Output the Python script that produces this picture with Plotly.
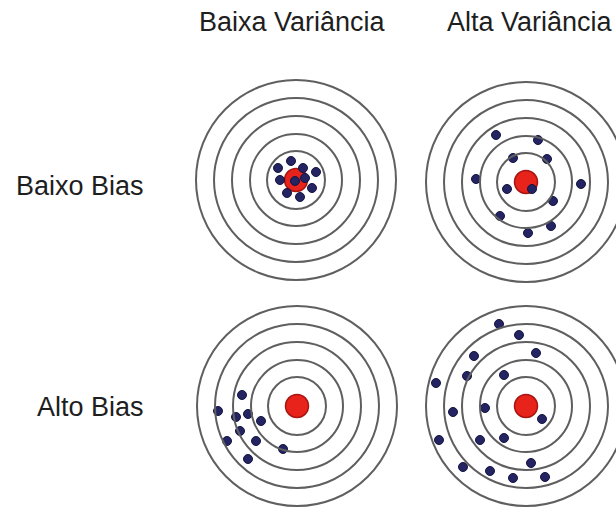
import plotly.graph_objects as go

# column / row labels
col_labels = ["Baixa Variância", "Alta Variância"]
row_labels = ["Baixo Bias", "Alto Bias"]

# ring radii of each target (px)
ring_radii = [100, 82, 64, 46, 29]

# shot offsets from the target centre (px, y pointing down)
lb_lv_dx = [-5, -18, 7, 20, -16, 9, -1, 16, -9, 4]
lb_lv_dy = [-19, -12, -12, -8, 0, -2, 1, 8, 13, 17]

lb_hv_dx = [-30, 12, -13, 21, -50, 55, -19, 6, 27, -26, 25, 2]
lb_hv_dy = [-47, -42, -24, -23, -3, 2, 7, 7, 19, 34, 44, 51]

hb_lv_dx = [-55, -79, -61, -49, -36, -57, -70, -41, -14, -49]
hb_lv_dy = [-11, 5, 11, 8, 15, 25, 35, 35, 43, 53]

hb_hv_dx = [-27, -7, -52, 10, -59, -22, -90, -73, -41, 16, -87, -46, -22, 5, -63, -36, -13, 19]
hb_hv_dy = [-82, -71, -50, -53, -30, -31, -23, 6, 2, 13, 34, 34, 32, 57, 61, 65, 72, 71]

# target centres on the page
centres = [(296, 180), (526, 182), (297, 406), (526, 406)]
shots = [(lb_lv_dx, lb_lv_dy), (lb_hv_dx, lb_hv_dy),
         (hb_lv_dx, hb_lv_dy), (hb_hv_dx, hb_hv_dy)]

fig = go.Figure()
shapes = []

for (cx, cy), (dx, dy) in zip(centres, shots):
    for r in ring_radii:
        shapes.append(dict(type="circle", xref="x", yref="y",
                           x0=cx - r, x1=cx + r, y0=cy - r, y1=cy + r,
                           line=dict(color="#5f5f5f", width=2)))
    # bullseye
    fig.add_trace(go.Scatter(x=[cx], y=[cy], mode="markers",
                             marker=dict(size=23, color="#e8231c",
                                         line=dict(color="#a81410", width=1.5)),
                             showlegend=False, hoverinfo="skip"))
    fig.add_trace(go.Scatter(x=[cx + v for v in dx], y=[cy + v for v in dy],
                             mode="markers",
                             marker=dict(size=9, color="#242463",
                                         line=dict(color="#141440", width=1)),
                             showlegend=False))

font = dict(family="Liberation Sans, Arial, sans-serif", size=27, color="#1e1e1e")
annotations = []
for text, x in zip(col_labels, [292, 530]):
    annotations.append(dict(text=text, x=x, y=22, xref="x", yref="y",
                            showarrow=False, font=font, xanchor="center", yanchor="middle"))
for text, y in zip(row_labels, [186, 407]):
    annotations.append(dict(text=text, x=146, y=y, xref="x", yref="y",
                            showarrow=False, font=font, xanchor="right", yanchor="middle"))

fig.update_layout(
    width=616, height=507,
    margin=dict(l=0, r=0, t=0, b=0),
    paper_bgcolor="white", plot_bgcolor="white",
    shapes=shapes, annotations=annotations,
    xaxis=dict(range=[0, 616], visible=False, fixedrange=True),
    yaxis=dict(range=[507, 0], visible=False, fixedrange=True),
)

# drop the default page margin so the figure fills the window exactly
fig.write_html(
    "out.html",
    config={"displayModeBar": False},
    post_script="document.body.style.margin='0';"
                "document.documentElement.style.overflow='hidden';",
)
